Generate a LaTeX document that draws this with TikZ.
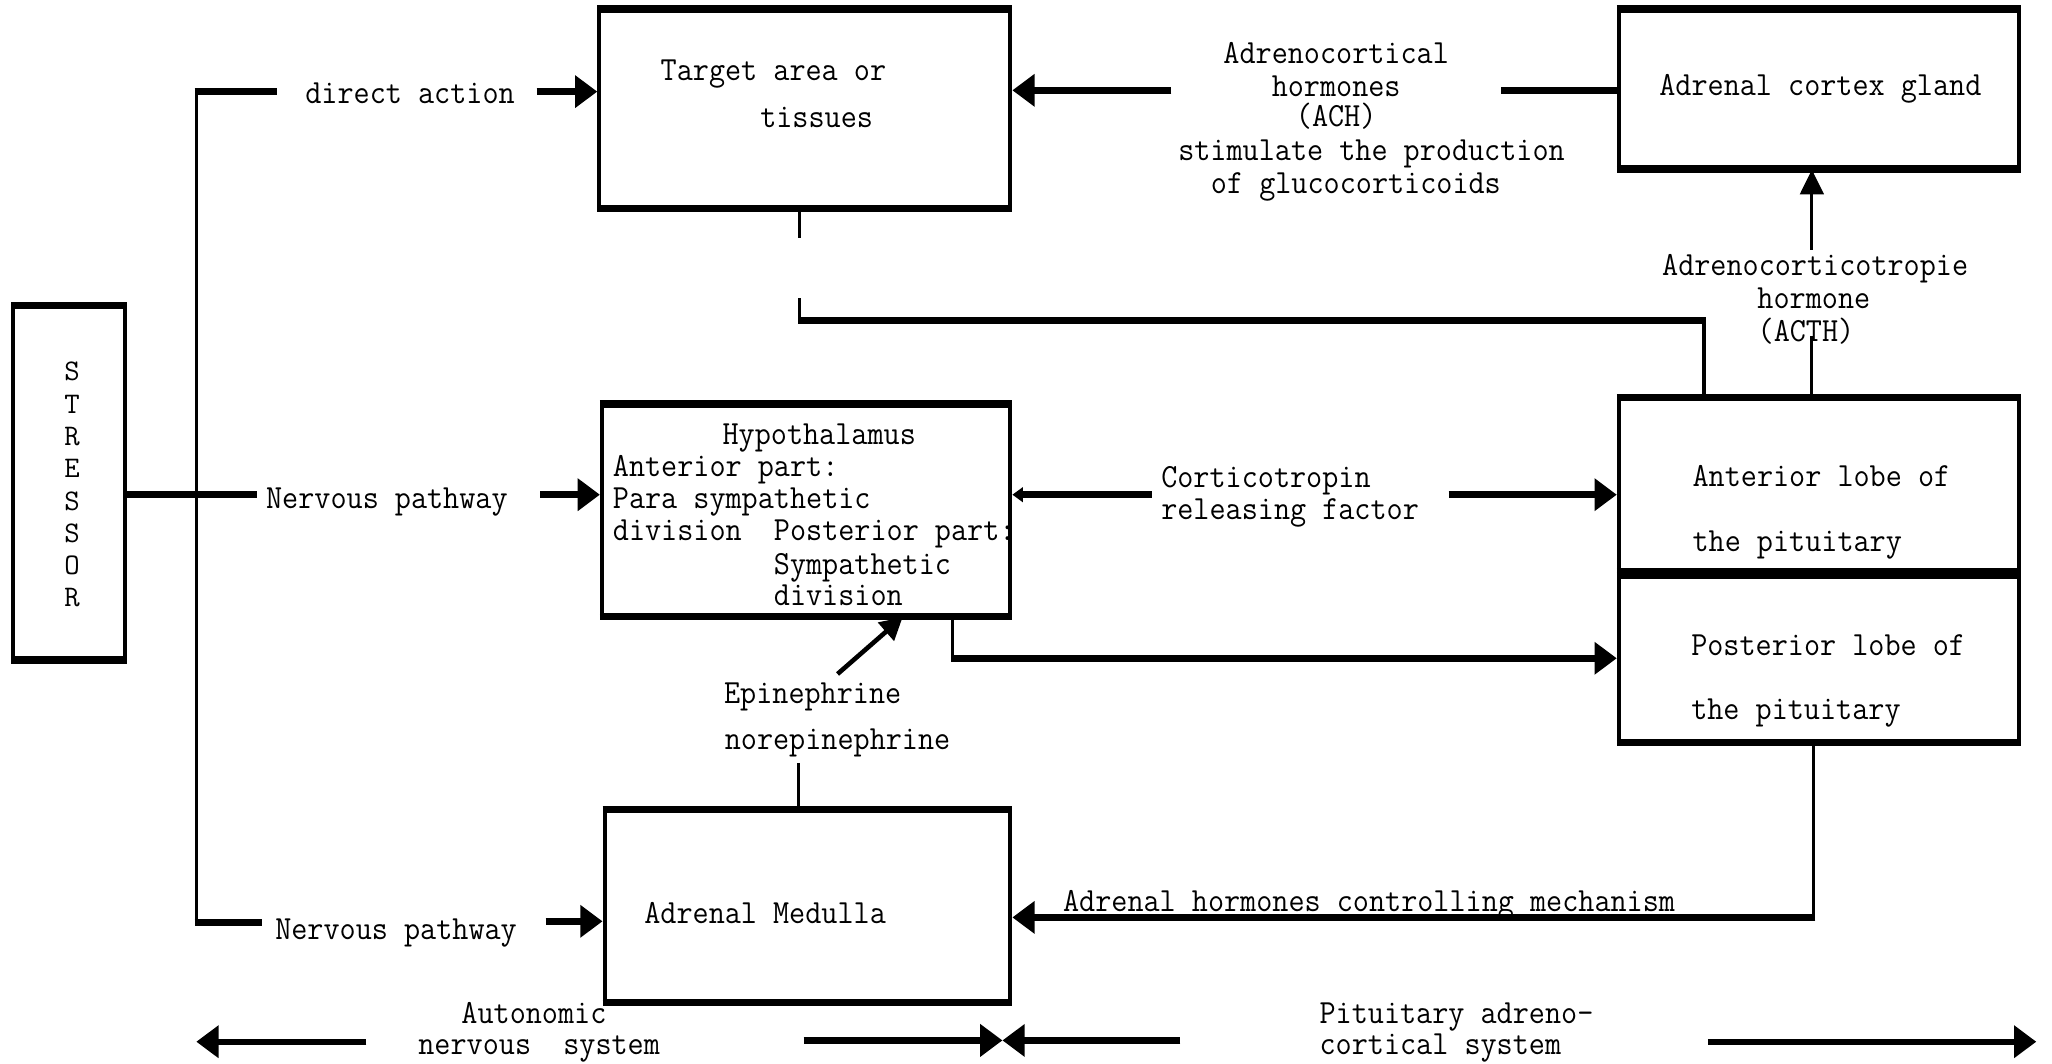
\documentclass[tikz,border=0pt]{standalone}
\usepackage{fontspec}
\newfontfamily\tw{Latin Modern Mono}[FakeStretch=0.925]
\newfontfamily\twplain{Latin Modern Mono}
\usetikzlibrary{arrows.meta,calc}

\tikzset{
  lbl/.style={font=\tw\fontsize{14.7}{17}\selectfont, inner sep=0pt, anchor=mid, yshift=-0.8mm},
  lblw/.style={lbl, anchor=mid west},
  letter/.style={font=\twplain\fontsize{13}{15}\selectfont, inner sep=0pt},
  box/.style={draw, line width=1.8pt, inner sep=0pt},
  wire/.style={line width=1.4pt},
  bar/.style={line width=2.8pt},
  bararrow/.style={bar, -{Triangle[length=3.4mm,width=4.8mm]}},
  wirearrow/.style={wire, -{Triangle[length=3.8mm,width=3.6mm]}},
  slantarrow/.style={line width=2pt, -{Triangle[length=3.4mm,width=3.6mm]}},
  tinyarrow/.style={bar, -{Triangle[length=1.6mm,width=2.2mm]}}
}

\begin{document}
\begin{tikzpicture}[x=0.2mm, y=-0.2mm]
\fill[white] (0,0) rectangle (1568,813);
\useasboundingbox (0,0) rectangle (1568,813);

% boxes
\node[box, minimum width=17.1mm, minimum height=53.7mm] (stressor) at (52.75,368.8) {};
\node[box, minimum width=62.8mm, minimum height=30mm] (target) at (615,83) {};
\node[box, minimum width=61.2mm, minimum height=24mm] (cortex) at (1390,68) {};
\node[box, minimum width=62.4mm, minimum height=32mm] (hypo) at (616,390) {};
\node[box, minimum width=61.2mm, minimum height=26.6mm] (antpit) at (1390,371.5) {};
\node[box, minimum width=61.2mm, minimum height=25.6mm] (postpit) at (1390,502) {};
\node[box, minimum width=62mm, minimum height=29mm] (medulla) at (617,692.5) {};

% heavier top and bottom edges of the boxes
\foreach \b in {stressor,target,cortex,hypo,antpit,postpit,medulla}
  \draw[line width=2.8pt] (\b.north west) -- (\b.north east)
                          (\b.south west) -- (\b.south east);

% box texts
\foreach \ch [count=\i] in {S,T,R,E,S,S,O,R}
  \node[letter] (s\i) at (55,{284+24.7*(\i-1)}) {\ch};

\node[lbl] (tt1) at (591,54) {Target area or};
\node[lbl] (tt2) at (624,90) {tissues};

\node[lbl] (cg) at (1391,65) {Adrenal cortex gland};

\node[lbl] (hy0) at (626,332) {Hypothalamus};
\node[lblw] (hy1) at (468,356) {Anterior part:};
\node[lblw] (hy2) at (468,381) {Para sympathetic};
\node[lblw] (hy3) at (468,405) {division\ \ Posterior part:};
\node[lblw] (hy4) at (591,431) {Sympathetic};
\node[lblw] (hy5) at (591,455) {division};

\node[lblw] (ap1) at (1293,364) {Anterior lobe of};
\node[lblw] (ap2) at (1293,414) {the pituitary};
\node[lblw] (pp1) at (1292,493) {Posterior lobe of};
\node[lblw] (pp2) at (1292,542) {the pituitary};

\node[lblw] (am) at (492,698) {Adrenal Medulla};

% connector labels
\node[lblw] (tda) at (233,71) {direct action};
\node[lbl] (ac1) at (1021,41) {Adrenocortical};
\node[lbl] (ac2) at (1021,66) {hormones};
\node[lbl] (ac3) at (1021,89) {(ACH)};
\node[lblw] (ac4) at (900,115) {stimulate the production};
\node[lblw] (ac5) at (925,140) {of glucocorticoids};

\node[lbl] (at1) at (1387,203) {Adrenocorticotropie};
\node[lbl] (at2) at (1386,228) {hormone};
\node[lbl] (at3) at (1380,253) {(ACTH)};

\node[lblw] (np1) at (203,381) {Nervous pathway};
\node[lblw] (cr1) at (887,365) {Corticotropin};
\node[lblw] (cr2) at (887,389) {releasing factor};

\node[lbl] (epi) at (621,530) {Epinephrine};
\node[lbl] (nor) at (640,565) {norepinephrine};

\node[lblw] (np2) at (210,710) {Nervous pathway};
\node[lblw] (ahc) at (812,689) {Adrenal hormones controlling mechanism};

\node[lbl] (ans1) at (408,774) {Autonomic};
\node[lbl] (ans2) at (412,798) {nervous\ \ system};
\node[lblw] (pac1) at (1008,774) {Pituitary adreno-};
\node[lblw] (pac2) at (1008,798) {cortical system};

% free ends of the connectors
\coordinate (vtop) at (150,70);
\coordinate (vbot) at (150,705);
\coordinate (da1) at (212,70);
\coordinate (da2) at (410,70);
\coordinate (mp1) at (196,378);
\coordinate (mp2) at (413,378);
\coordinate (bp1) at (200,705);
\coordinate (bp2) at (417,704);
\coordinate (ach1) at (895,69);
\coordinate (ach2) at (1147,69);
\coordinate (fb1) at (611,182);
\coordinate (fb2) at (611,228);
\coordinate (fbc) at (1302,245);
\coordinate (acth1) at (1384.5,257);
\coordinate (acth2) at (1384.5,191);
\coordinate (crf1) at (880,378);
\coordinate (crf2) at (1107,378);
\coordinate (hp) at (728,503);
\coordinate (ep1) at (640,515);
\coordinate (ne) at (610,583);
\coordinate (ah) at (1386,701);
\coordinate (b0) at (150,796);
\coordinate (b1) at (280,796);
\coordinate (b2) at (614,795);
\coordinate (bm) at (766,795);
\coordinate (b3) at (902,795);
\coordinate (b4) at (1305,796);
\coordinate (b5) at (1556,796);

% stressor pathways
\draw[wire] (vtop) -- (vbot);
\draw[bar] ([xshift=-0.7pt]vtop) -- (da1);
\draw[bararrow] (da2) -- (da2 -| target.west);
\draw[bar] (stressor.east |- mp1) -- (mp1);
\draw[bararrow] (mp2) -- (mp2 -| hypo.west);
\draw[bar] ([xshift=-0.7pt]vbot) -- (bp1);
\draw[bararrow] (bp2) -- (bp2 -| medulla.west);

% adrenal cortex to target
\draw[bararrow] (ach1) -- (ach1 -| target.east);
\draw[bar] (ach2) -- (ach2 -| cortex.west);

% feedback from the anterior lobe to the target
\draw[wire] (target.south -| fb1) -- (fb1);
\draw[wire] (fb2) -- (fb2 |- fbc);
\draw[bar] ([xshift=-0.7pt]fb2 |- fbc) -- ([xshift=0.7pt]fbc);
\draw[wire] (fbc) -- (fbc |- antpit.north);

% ACTH
\draw[wire] (acth1 |- antpit.north) -- (acth1);
\draw[wirearrow] (acth2) -- (acth2 |- cortex.south);

% corticotropin releasing factor
\draw[tinyarrow] (crf1) -- (crf1 -| hypo.east);
\draw[bararrow] (crf2) -- (crf2 -| antpit.west);

% hypothalamus to posterior lobe
\draw[wire] (hp |- hypo.south) -- ([yshift=0.7pt]hp);
\draw[bararrow] ([xshift=-0.7pt]hp) -- (hp -| postpit.west);

% epinephrine / norepinephrine
\draw[slantarrow] (ep1) -- ($(hypo.south west)!0.734!(hypo.south east)$);
\draw[wire] (ne) -- (ne |- medulla.north);

% adrenal hormones controlling mechanism
\draw[wire] (ah |- postpit.south) -- ([yshift=0.7pt]ah);
\draw[bararrow] ([xshift=0.7pt]ah) -- (ah -| medulla.east);

% system extents
\draw[bararrow] (b1) -- (b0);
\draw[bararrow] (b2) -- (bm);
\draw[bararrow] (b3) -- (bm);
\draw[bararrow] (b4) -- (b5);
\end{tikzpicture}
\end{document}
